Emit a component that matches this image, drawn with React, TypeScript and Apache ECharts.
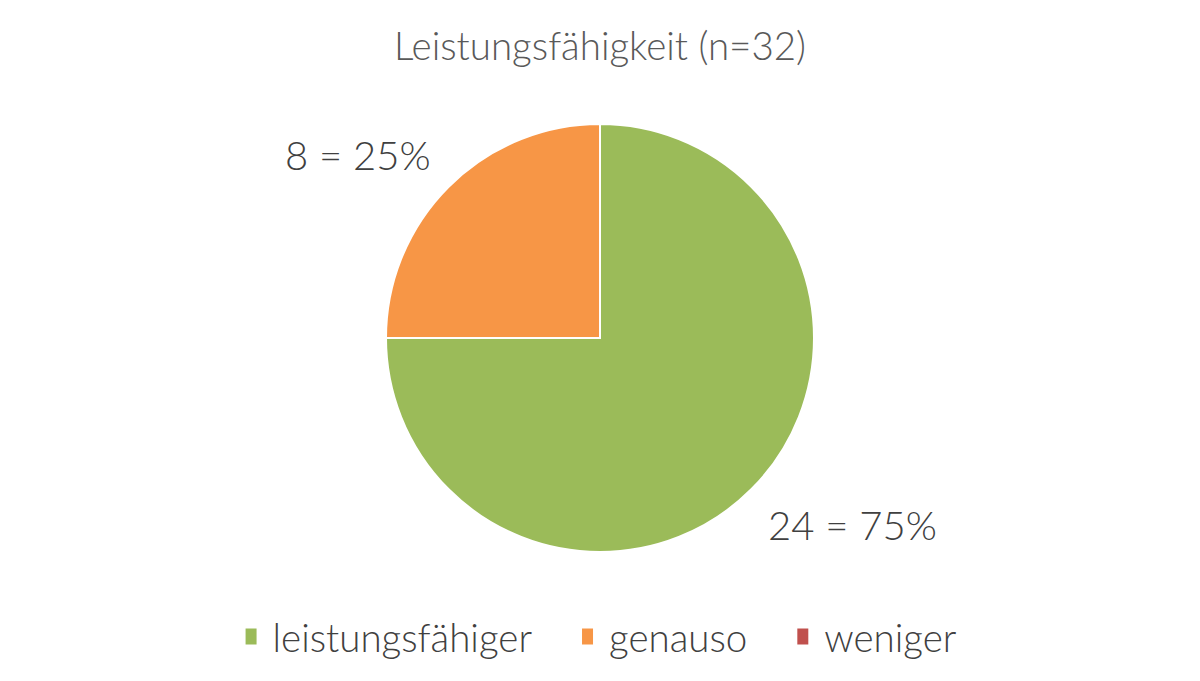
import React, { useEffect, useRef } from "react";
import * as echarts from "echarts";

const titleText = "Leistungsfähigkeit (n=32)";
const categories = ["leistungsfähiger", "genauso", "weniger"];
const values = [24, 8, 0];
const percents = ["75%", "25%", "0%"];
const colors = ["#9BBB59", "#F79646", "#C0504D"];

export default function App() {
  const ref = useRef<HTMLDivElement>(null);
  useEffect(() => {
    if (!ref.current) return;
    const chart = echarts.init(ref.current, null, { renderer: "svg" });
    const font = "Lato, 'Noto Sans', sans-serif";
    chart.setOption({
      animation: false,
      backgroundColor: "#ffffff",
      title: {
        text: titleText,
        left: "center",
        top: 20,
        textStyle: { fontFamily: font, fontSize: 38.5, fontWeight: 300, color: "#595959" },
      },
      legend: {
        data: categories,
        bottom: 20,
        left: "center",
        icon: "rect",
        itemWidth: 13,
        itemHeight: 18,
        itemGap: 48,
        textStyle: { fontFamily: font, fontSize: 38.5, fontWeight: 300, color: "#404040", padding: [0, 0, 0, 10] },
      },
      series: [
        {
          type: "pie",
          center: [600, 338],
          radius: [0, 214],
          startAngle: 90,
          clockwise: true,
          color: colors,
          itemStyle: { borderColor: "#ffffff", borderWidth: 2 },
          data: categories.map((c, i) => ({ name: c, value: values[i] })),
          label: {
            show: true,
            position: "outside",
            formatter: (p: any) => (p.value > 0 ? `${p.value} = ${percents[p.dataIndex]}` : ""),
            fontFamily: font,
            fontSize: 40,
            fontWeight: 300,
            color: "#404040",
          },
          labelLine: { show: false },
          labelLayout: (p: any) => {
            if (p.dataIndex === 0) return { x: 768, y: 525, align: "left", verticalAlign: "middle" };
            if (p.dataIndex === 1) return { x: 285, y: 155, align: "left", verticalAlign: "middle" };
            return {};
          },
        },
      ],
    });
    return () => chart.dispose();
  }, []);
  return (
    <div
      ref={ref}
      style={{ position: "fixed", left: 0, top: 0, width: 1200, height: 681 }}
    />
  );
}
